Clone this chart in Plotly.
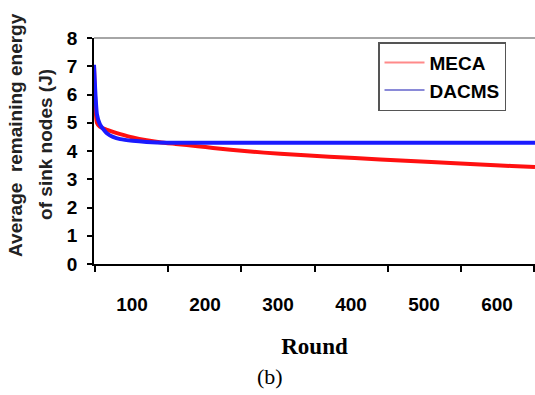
import plotly.graph_objects as go

# Data
rounds_meca = [48, 50, 52, 56, 66, 74, 84, 101, 120, 138, 160, 190, 211, 258, 303, 370, 440, 510, 577, 620, 652]
energy_meca = [7.0, 5.6, 5.0, 4.86, 4.75, 4.68, 4.6, 4.48, 4.38, 4.31, 4.25, 4.17, 4.11, 3.99, 3.90, 3.80, 3.70, 3.61, 3.52, 3.47, 3.43]

rounds_dacms = [48, 50, 52, 56, 63, 66, 74, 84, 101, 120, 148, 200, 300, 400, 500, 652]
energy_dacms = [7.05, 6.0, 5.3, 4.95, 4.7, 4.62, 4.5, 4.42, 4.36, 4.32, 4.29, 4.29, 4.29, 4.29, 4.29, 4.29]

x_tick_vals = [100, 200, 300, 400, 500, 600]
y_tick_vals = [0, 1, 2, 3, 4, 5, 6, 7, 8]

fig = go.Figure()
fig.add_trace(go.Scatter(x=rounds_meca, y=energy_meca, mode="lines", name="MECA",
                         line=dict(color="#ff1010", width=4, shape="spline", smoothing=0.6),
                         showlegend=False))
fig.add_trace(go.Scatter(x=rounds_dacms, y=energy_dacms, mode="lines", name="DACMS",
                         line=dict(color="#1a1aff", width=4, shape="spline", smoothing=0.6),
                         showlegend=False))
# legend entries (lighter, thinner samples as in the reference)
fig.add_trace(go.Scatter(x=[None], y=[None], mode="lines", name="MECA",
                         line=dict(color="#ff8a8a", width=2)))
fig.add_trace(go.Scatter(x=[None], y=[None], mode="lines", name="DACMS",
                         line=dict(color="#8a8ad8", width=2)))

fig.update_layout(
    width=535, height=395,
    margin=dict(l=94, r=0, t=38, b=131),
    paper_bgcolor="white", plot_bgcolor="white",
    showlegend=True,
    legend=dict(x=0.644, y=0.982, xanchor="left", yanchor="top",
                bordercolor="#555555", borderwidth=1.5, bgcolor="white",
                font=dict(family="Liberation Sans", size=19, color="black", weight="bold"),
                itemwidth=40, tracegroupgap=0),
    xaxis=dict(range=[48, 652], tickvals=x_tick_vals, ticks="", showgrid=False, zeroline=False,
               showline=True, linecolor="black", linewidth=1.5,
               tickfont=dict(family="Liberation Sans", size=19, color="black", weight="bold"),
               ticklabelstandoff=22,
               minor=dict(ticks="outside", tick0=50, dtick=100, ticklen=6, tickcolor="black", tickwidth=1.5),
               title=dict(text="Round", font=dict(family="Liberation Serif", size=23, color="black", weight="bold"),
                          standoff=24)),
    yaxis=dict(range=[0, 8], tickvals=y_tick_vals, ticks="outside", ticklen=5, tickwidth=1.5, tickcolor="black",
               showgrid=False, zeroline=False, showline=True, linecolor="black", linewidth=1.5,
               tickfont=dict(family="Liberation Sans", size=19, color="black", weight="bold"),
               ticklabelstandoff=6),
    shapes=[dict(type="line", xref="paper", yref="paper", x0=0, x1=1, y0=1, y1=1,
                 line=dict(color="#888888", width=1.5))],
    annotations=[
        dict(text="Average  remaining energy", xref="paper", yref="paper", x=0, y=0.571,
             xshift=-78, textangle=-90, showarrow=False, xanchor="center", yanchor="middle",
             font=dict(family="Liberation Sans", size=19, color="#222222", weight="bold")),
        dict(text="of sink nodes (J)", xref="paper", yref="paper", x=0, y=0.527,
             xshift=-48, textangle=-90, showarrow=False, xanchor="center", yanchor="middle",
             font=dict(family="Liberation Sans", size=19, color="#222222", weight="bold")),
        dict(text="(b)", xref="paper", yref="paper", x=(270 - 94) / 441, y=0, yshift=-112,
             showarrow=False, xanchor="center", yanchor="middle",
             font=dict(family="Liberation Serif", size=22, color="black")),
    ],
)

fig.write_html("out.html", config={"displayModeBar": False},
               post_script="document.body.style.margin='0';")
